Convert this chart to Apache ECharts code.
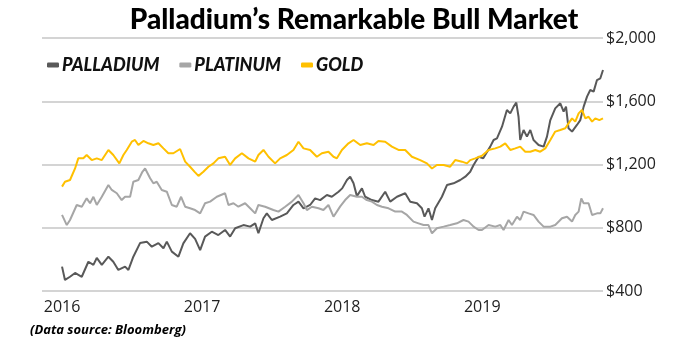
<!DOCTYPE html>
<html>
<head>
<meta charset="utf-8">
<script src="https://cdn.jsdelivr.net/npm/echarts@6/dist/echarts.min.js"></script>
<style>
  html, body { margin: 0; padding: 0; background: #fff; }
  #chart { width: 691px; height: 354px; }
</style>
</head>
<body>
<div id="chart"></div>
<script>
// x = year as a decimal (2016.5 = mid 2016), y = US$ per ounce
const yearLabels = [2016, 2017, 2018, 2019];
const priceTicks = [400, 800, 1200, 1600, 2000];

const palladium = [
  [2016.000, 554], [2016.021, 470], [2016.057, 490], [2016.093, 514], [2016.141, 490],
  [2016.188, 585], [2016.224, 565], [2016.248, 609], [2016.284, 565], [2016.331, 617],
  [2016.366, 585], [2016.402, 533], [2016.450, 554], [2016.474, 533], [2016.509, 617],
  [2016.557, 703], [2016.605, 712], [2016.641, 680], [2016.688, 703], [2016.724, 670],
  [2016.748, 712], [2016.784, 649], [2016.831, 617], [2016.866, 701], [2016.914, 765],
  [2016.950, 730], [2016.986, 659], [2017.021, 744], [2017.069, 775], [2017.116, 754],
  [2017.164, 786], [2017.200, 744], [2017.236, 797], [2017.295, 817], [2017.343, 807],
  [2017.379, 828], [2017.402, 765], [2017.438, 860], [2017.462, 891], [2017.498, 849],
  [2017.557, 870], [2017.605, 891], [2017.652, 944], [2017.688, 965], [2017.724, 923],
  [2017.771, 944], [2017.807, 986], [2017.843, 975], [2017.891, 1007], [2017.926, 996],
  [2017.974, 1028], [2018.000, 1049], [2018.034, 1102], [2018.057, 1123], [2018.081, 1081],
  [2018.105, 1000], [2018.141, 1049], [2018.164, 996], [2018.212, 975], [2018.259, 965],
  [2018.307, 1028], [2018.343, 965], [2018.391, 996], [2018.450, 1018], [2018.486, 965],
  [2018.534, 955], [2018.569, 923], [2018.588, 870], [2018.616, 923], [2018.641, 849],
  [2018.664, 923], [2018.712, 996], [2018.748, 1070], [2018.795, 1081], [2018.843, 1102],
  [2018.879, 1123], [2018.914, 1154], [2018.938, 1197], [2018.974, 1249], [2019.007, 1240],
  [2019.057, 1313], [2019.081, 1355], [2019.105, 1365], [2019.141, 1439], [2019.176, 1545],
  [2019.200, 1523], [2019.224, 1566], [2019.243, 1591], [2019.259, 1502], [2019.271, 1355],
  [2019.295, 1418], [2019.319, 1376], [2019.343, 1418], [2019.366, 1355], [2019.402, 1323],
  [2019.438, 1313], [2019.462, 1376], [2019.486, 1481], [2019.521, 1555], [2019.557, 1587],
  [2019.581, 1534], [2019.598, 1566], [2019.616, 1429], [2019.641, 1408], [2019.676, 1450],
  [2019.700, 1481], [2019.724, 1566], [2019.748, 1629], [2019.771, 1671], [2019.795, 1661],
  [2019.819, 1734], [2019.843, 1745], [2019.862, 1798]
];

const platinum = [
  [2016.000, 881], [2016.034, 817], [2016.057, 849], [2016.105, 944], [2016.141, 933],
  [2016.176, 986], [2016.200, 955], [2016.224, 996], [2016.248, 944], [2016.284, 996],
  [2016.331, 1070], [2016.355, 1039], [2016.391, 1018], [2016.426, 975], [2016.450, 996],
  [2016.486, 996], [2016.509, 1091], [2016.545, 1102], [2016.574, 1154], [2016.593, 1175],
  [2016.629, 1113], [2016.652, 1081], [2016.676, 1091], [2016.712, 1039], [2016.748, 1028],
  [2016.784, 944], [2016.819, 933], [2016.850, 996], [2016.879, 933], [2016.914, 923],
  [2016.950, 912], [2016.986, 891], [2017.021, 955], [2017.057, 965], [2017.105, 996],
  [2017.164, 1018], [2017.188, 944], [2017.224, 955], [2017.259, 933], [2017.307, 955],
  [2017.343, 923], [2017.379, 891], [2017.402, 944], [2017.450, 933], [2017.509, 912],
  [2017.545, 902], [2017.593, 933], [2017.641, 965], [2017.688, 1007], [2017.724, 955],
  [2017.748, 912], [2017.784, 933], [2017.831, 923], [2017.866, 912], [2017.902, 944],
  [2017.938, 870], [2017.986, 935], [2018.021, 975], [2018.057, 1007], [2018.105, 996],
  [2018.141, 996], [2018.176, 975], [2018.212, 965], [2018.248, 944], [2018.284, 933],
  [2018.331, 923], [2018.379, 902], [2018.426, 902], [2018.462, 881], [2018.509, 839],
  [2018.545, 828], [2018.581, 817], [2018.616, 817], [2018.641, 765], [2018.676, 797],
  [2018.724, 807], [2018.771, 817], [2018.819, 828], [2018.866, 849], [2018.902, 839],
  [2018.938, 807], [2018.974, 786], [2018.998, 786], [2019.045, 817], [2019.093, 807],
  [2019.129, 817], [2019.152, 786], [2019.188, 849], [2019.212, 817], [2019.248, 870],
  [2019.271, 849], [2019.295, 902], [2019.331, 891], [2019.366, 881], [2019.402, 839],
  [2019.438, 807], [2019.486, 807], [2019.521, 817], [2019.569, 860], [2019.605, 870],
  [2019.641, 839], [2019.664, 881], [2019.688, 902], [2019.707, 986], [2019.724, 955],
  [2019.759, 955], [2019.784, 881], [2019.819, 891], [2019.843, 891], [2019.862, 923]
];

const gold = [
  [2016.000, 1060], [2016.021, 1091], [2016.057, 1102], [2016.093, 1175], [2016.116, 1239],
  [2016.152, 1239], [2016.176, 1260], [2016.212, 1228], [2016.248, 1239], [2016.284, 1228],
  [2016.331, 1292], [2016.366, 1260], [2016.409, 1207], [2016.438, 1260], [2016.462, 1292],
  [2016.498, 1344], [2016.521, 1355], [2016.545, 1323], [2016.581, 1349], [2016.616, 1334],
  [2016.652, 1323], [2016.688, 1334], [2016.724, 1302], [2016.759, 1271], [2016.795, 1271],
  [2016.843, 1298], [2016.879, 1218], [2016.914, 1186], [2016.950, 1150], [2016.974, 1128],
  [2017.009, 1154], [2017.045, 1186], [2017.081, 1207], [2017.116, 1239], [2017.164, 1249],
  [2017.200, 1197], [2017.236, 1239], [2017.284, 1271], [2017.331, 1239], [2017.379, 1218],
  [2017.402, 1260], [2017.438, 1292], [2017.474, 1249], [2017.521, 1207], [2017.557, 1239],
  [2017.605, 1260], [2017.652, 1292], [2017.688, 1344], [2017.724, 1302], [2017.771, 1292],
  [2017.819, 1249], [2017.855, 1271], [2017.902, 1281], [2017.938, 1249], [2017.962, 1239],
  [2017.998, 1292], [2018.045, 1334], [2018.081, 1355], [2018.129, 1323], [2018.176, 1334],
  [2018.224, 1323], [2018.259, 1349], [2018.307, 1344], [2018.355, 1313], [2018.402, 1292],
  [2018.450, 1292], [2018.498, 1249], [2018.557, 1228], [2018.605, 1207], [2018.641, 1175],
  [2018.676, 1197], [2018.724, 1197], [2018.771, 1186], [2018.807, 1228], [2018.855, 1218],
  [2018.891, 1207], [2018.914, 1228], [2018.950, 1239], [2018.998, 1255], [2019.045, 1292],
  [2019.093, 1302], [2019.129, 1313], [2019.164, 1334], [2019.200, 1292], [2019.236, 1302],
  [2019.271, 1313], [2019.307, 1281], [2019.343, 1281], [2019.379, 1292], [2019.414, 1281],
  [2019.450, 1302], [2019.486, 1355], [2019.521, 1408], [2019.557, 1418], [2019.593, 1429],
  [2019.616, 1460], [2019.641, 1492], [2019.664, 1471], [2019.688, 1523], [2019.712, 1545],
  [2019.736, 1492], [2019.759, 1502], [2019.784, 1471], [2019.807, 1492], [2019.836, 1481],
  [2019.862, 1492]
];

const chart = echarts.init(document.getElementById('chart'));

const lineSeries = (name, data, color) => ({
  name: name,
  type: 'line',
  data: data,
  symbol: 'none',
  clip: false,
  lineStyle: { color: color, width: 2 },
  itemStyle: { color: color },
});

const option = {
  animation: false,
  title: {
    text: 'Palladium\u2019s Remarkable Bull Market',
    left: 349,
    textAlign: 'center',
    top: 1,
    textStyle: {
      fontFamily: 'Lato',
      fontWeight: 900,
      fontSize: 28,
      color: '#000',
    },
  },
  legend: {
    left: 42,
    top: 51,
    itemWidth: 12,
    itemHeight: 5,
    itemGap: 20,
    icon: 'roundRect',
    textStyle: {
      fontFamily: 'Lato',
      fontWeight: 900,
      fontStyle: 'italic',
      fontSize: 18,
      color: '#111',
      padding: [0, 0, 0, -2],
    },
    data: ['PALLADIUM', 'PLATINUM', 'GOLD'],
  },
  grid: {
    left: 42,
    right: 88,
    top: 38,
    bottom: 63,
  },
  xAxis: {
    type: 'value',
    min: 2015.857,
    max: 2019.862,
    axisLine: { show: false },
    axisTick: { show: false },
    splitLine: { show: false },
    axisLabel: {
      customValues: yearLabels,
      formatter: (v) => String(v),
      fontFamily: 'Open Sans',
      fontSize: 16,
      color: '#222',
      margin: 8,
    },
  },
  yAxis: {
    type: 'value',
    position: 'right',
    min: priceTicks[0],
    max: priceTicks[priceTicks.length - 1],
    interval: 400,
    axisLine: { show: false },
    axisTick: { show: false },
    axisLabel: {
      formatter: (v) => '$' + v.toLocaleString('en-US'),
      fontFamily: 'Open Sans',
      fontSize: 16,
      color: '#222',
      margin: 3,
    },
    splitLine: {
      lineStyle: { color: '#c6c6c6', width: 1.5 },
    },
  },
  graphic: [
    {
      type: 'text',
      left: 30,
      top: 324,
      style: {
        text: '(Data source: Bloomberg)',
        font: 'italic bold 13px "Open Sans"',
        fill: '#000',
      },
    },
  ],
  series: [
    lineSeries('PALLADIUM', palladium, '#595959'),
    lineSeries('PLATINUM', platinum, '#a6a6a6'),
    lineSeries('GOLD', gold, '#ffc000'),
  ],
};

chart.setOption(option);
</script>
</body>
</html>
